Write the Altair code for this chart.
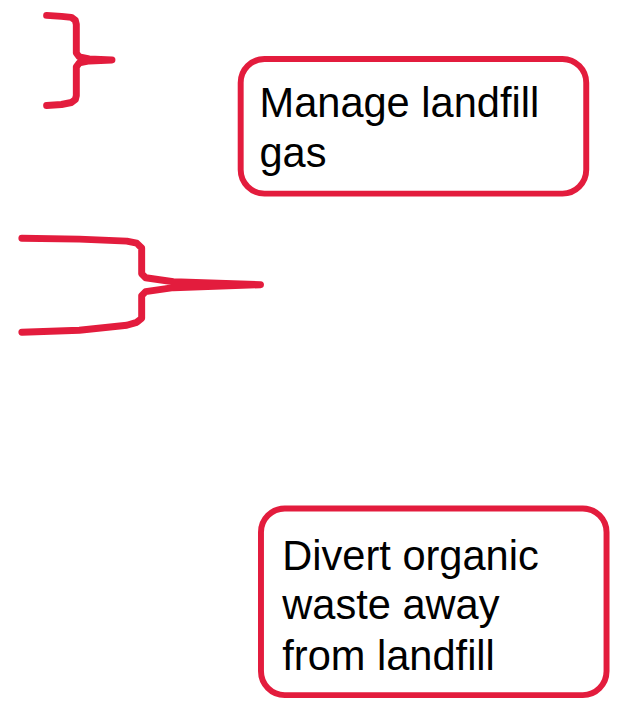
import altair as alt
import pandas as pd

# Bracket paths (diagram coordinates, px in a 618x707 canvas)
bracket1_x = [47, 62, 72, 76, 77, 77, 80, 90, 113, 90, 80, 77, 77, 76, 72, 62, 47]
bracket1_y = [12, 13, 14, 17, 21, 50, 54, 56, 57, 58, 60, 64, 93, 97, 100, 102, 103]
bracket2_x = [22, 80, 128, 138, 143, 143, 147, 175, 263, 175, 147, 143, 143, 138, 128, 80, 22]
bracket2_y = [237, 238, 240, 242, 247, 273, 277, 281, 284, 287, 291, 295, 318, 322, 325, 330, 332]

# Boxes
box_x1 = [243, 263.5]
box_x2 = [592, 612.5]
box_y1 = [56, 510]
box_y2 = [192, 698.5]

# Labels (one entry per line)
label_text = ["Manage landfill", "gas", "Divert organic", "waste away", "from landfill"]
label_x = [262, 262, 285, 285, 285]
label_y = [115, 165, 572, 622, 673]

RED = "#E31C3D"

rows = []
for b, (xs, ys) in enumerate([(bracket1_x, bracket1_y), (bracket2_x, bracket2_y)]):
    for i, (xv, yv) in enumerate(zip(xs, ys)):
        rows.append({"b": b, "i": i, "x": xv, "y": yv})
br = pd.DataFrame(rows)
boxes = pd.DataFrame({"x": box_x1, "x2": box_x2, "y": box_y1, "y2": box_y2})
labels = pd.DataFrame({"t": label_text, "x": label_x, "y": label_y})

xs = alt.Scale(domain=[8, 610], nice=False, zero=False)
ys = alt.Scale(domain=[8, 699], nice=False, zero=False, reverse=True)

lines = alt.Chart(br).mark_line(
    color=RED, strokeWidth=7, strokeCap="round", strokeJoin="round", clip=False
).encode(
    x=alt.X("x:Q", scale=xs, axis=None),
    y=alt.Y("y:Q", scale=ys, axis=None),
    detail="b:N",
    order="i:Q",
)

rects = alt.Chart(boxes).mark_rect(
    fill="white", stroke=RED, strokeWidth=6, cornerRadius=24, clip=False
).encode(
    x=alt.X("x:Q", scale=xs, axis=None),
    x2="x2:Q",
    y=alt.Y("y:Q", scale=ys, axis=None),
    y2="y2:Q",
)

texts = alt.Chart(labels).mark_text(
    align="left", baseline="alphabetic", font="Liberation Sans", fontSize=42,
    color="black", clip=False
).encode(
    x=alt.X("x:Q", scale=xs, axis=None),
    y=alt.Y("y:Q", scale=ys, axis=None),
    text="t:N",
)

chart = alt.layer(lines, rects, texts).properties(
    width=602, height=691, padding=0
).configure_view(stroke=None)

chart.save("out.html", embed_options={"renderer": "svg", "actions": False})
